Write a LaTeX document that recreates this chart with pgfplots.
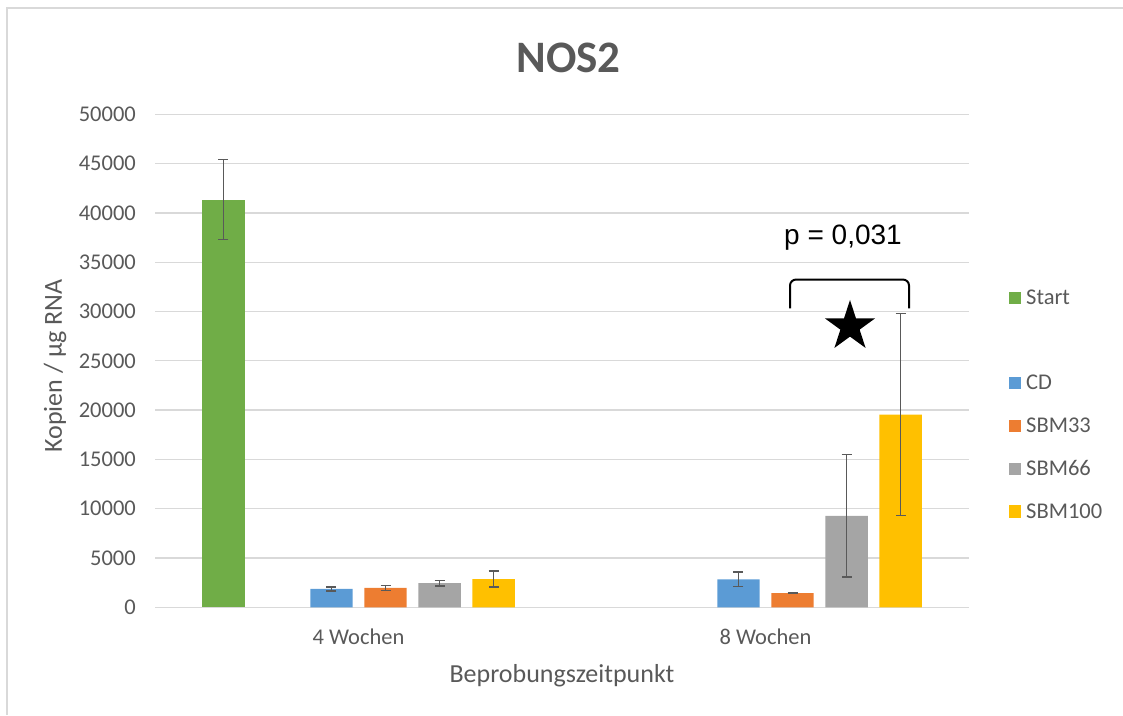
\documentclass[border=0pt]{standalone}
\usepackage{pgfplots}
\pgfplotsset{compat=1.18}
\usepackage{fontspec}
\setmainfont{Carlito}
\newfontfamily\arialfont{Liberation Sans}
\usetikzlibrary{shapes.geometric}
\definecolor{cgreen}{HTML}{70AD47}
\definecolor{cblue}{HTML}{5B9BD5}
\definecolor{corange}{HTML}{ED7D31}
\definecolor{cgray}{HTML}{A5A5A5}
\definecolor{cyellow}{HTML}{FFC000}
\definecolor{ctext}{HTML}{595959}
\definecolor{cgrid}{HTML}{D9D9D9}
\pgfplotsset{
  errstyle/.style={error bars/.cd, y dir=both, y explicit,
    error bar style={color=ctext, line width=1.4pt},
    error mark options={rotate=90, mark size=5pt, line width=1.4pt, color=ctext}},
  legsq/.style={legend image code/.code={\fill[##1] (0pt,-6.2pt) rectangle (12.4pt,6.2pt);}},
}
\begin{document}
\begin{tikzpicture}
\useasboundingbox (0,0) rectangle (1123pt,715pt);
\draw[cgrid, line width=2pt] (7pt,0pt) -- (7pt,707pt) -- (1123pt,707pt);
\begin{axis}[
  at={(155pt,107.7pt)}, anchor=south west,
  scale only axis, width=814pt, height=493pt,
  xmin=-0.5, xmax=1.5, ymin=0, ymax=50000,
  xtick={0,1}, xticklabels={4 Wochen, 8 Wochen},
  ytick={0,5000,...,50000},
  scaled y ticks=false,
  /pgf/number format/1000 sep={},
  /pgf/number format/assume math mode=true,
  axis line style={draw=none},
  major tick length=0pt,
  ymajorgrids, major grid style={cgrid, line width=1.3pt},
  tick label style={font=\fontsize{22.5}{27}\selectfont, text=ctext},
  x tick label style={anchor=center, yshift=-29pt},
  y tick label style={anchor=east, inner sep=0pt, xshift=-19pt},
  xlabel={Beprobungszeitpunkt}, ylabel={Kopien / µg RNA},
  every axis x label/.style={at={(axis description cs:0.5,-0.1394)}, anchor=center, font=\fontsize{26}{31}\selectfont, text=ctext},
  every axis y label/.style={at={(axis description cs:-0.1229,0.4895)}, anchor=center, rotate=90, font=\fontsize{26}{31}\selectfont, text=ctext},
  title={NOS2},
  every axis title/.style={at={(axis description cs:0.508,1.114)}, anchor=center, font=\fontsize{45}{54}\selectfont\bfseries, text=ctext},
  ybar, bar width=0.1042,
  legend cell align=left,
  legend style={at={(axis description cs:1.0446,0.648)}, anchor=north west, draw=none, fill=none,
    font=\fontsize{22.5}{27}\selectfont, text=ctext, row sep=26.5pt,
    nodes={inner sep=0pt},
    /tikz/every odd column/.append style={column sep=5.3pt}},
  clip=false,
]
\addplot[fill=cgreen, draw=none, bar shift=-0.332, legsq, errstyle] coordinates {(0,41350) +- (0,4050)};
\addlegendentry{Start}
\addlegendimage{empty legend}
\addlegendentry{\phantom{S}}
\addplot[fill=cblue, draw=none, bar shift=-0.0664, legsq, errstyle] coordinates {(0,1870) +- (0,200) (1,2840) +- (0,760)};
\addlegendentry{CD}
\addplot[fill=corange, draw=none, bar shift=0.0664, legsq, errstyle] coordinates {(0,1970) +- (0,270) (1,1450) +- (0,50)};
\addlegendentry{SBM33}
\addplot[fill=cgray, draw=none, bar shift=0.1992, legsq, errstyle] coordinates {(0,2450) +- (0,270) (1,9280) +- (0,6190)};
\addlegendentry{SBM66}
\addplot[fill=cyellow, draw=none, bar shift=0.332, legsq, errstyle] coordinates {(0,2860) +- (0,810) (1,19550) +- (0,10230)};
\addlegendentry{SBM100}
\draw[black, line width=2pt, rounded corners=6pt] (axis cs:1.0602,30320) -- (axis cs:1.0602,33240) -- (axis cs:1.3526,33240) -- (axis cs:1.3526,30320);
\node[star, star points=5, star point ratio=2.618, fill=black, minimum size=53pt, inner sep=0pt] at (axis cs:1.2076,28480) {};
\node[font=\arialfont\fontsize{28}{33}\selectfont, anchor=base, text=black] at (axis cs:1.1904,36750) {p = 0,031};
\end{axis}
\end{tikzpicture}
\end{document}
